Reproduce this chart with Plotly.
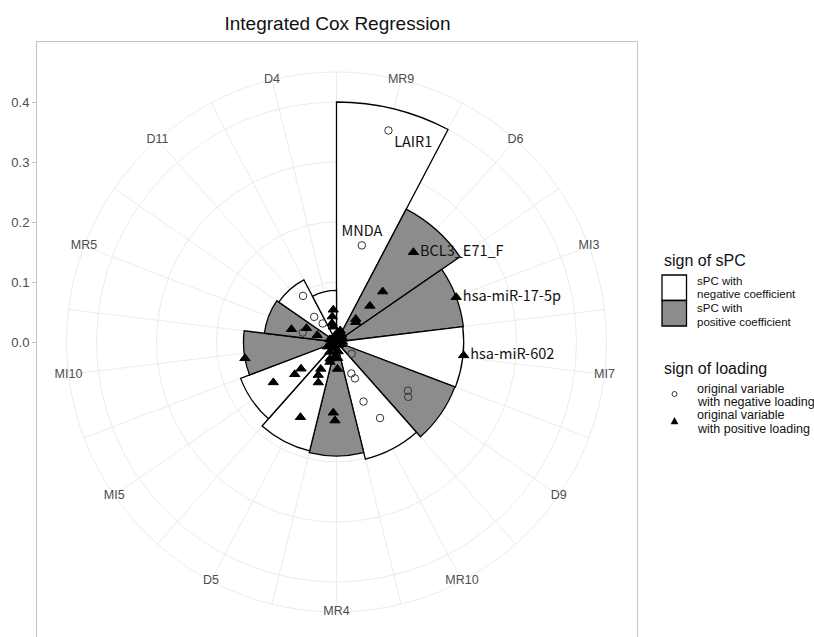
import plotly.graph_objects as go

# ---------------------------------------------------------------- data
title_text = "Integrated Cox Regression"

# sparse principal components, clockwise from 12 o'clock
spc_names = ["MR9", "D6", "MI3", "MI7", "D9", "MR10", "MR4",
             "D5", "MI5", "MI10", "MR5", "D11", "D4"]
spc_abs_coef = [0.400, 0.250, 0.213, 0.212, 0.211, 0.201, 0.190,
                0.187, 0.171, 0.155, 0.121, 0.117, 0.086]
spc_sign = ["neg", "pos", "pos", "neg", "pos", "neg", "pos",
            "neg", "neg", "pos", "pos", "neg", "neg"]

# original variables: angle (deg, clockwise from top), |loading|, sign, label
var_angle = [13.8, 14.7, 10, 18,
             40.6, 42.5, 42.8, 40.0, 44.0, 35, 48,
             69.5, 62, 75,
             96.0, 90,
             124.3, 127.4, 127.8, 118,
             154.8, 153.1, 155.6, 150.2, 150,
             182.6, 181.1, 177.9, 176, 186, 170,
             205.6, 204.2, 208.9, 210.3, 201, 198, 214, 205,
             237.4, 232.3, 233.0, 243, 230,
             259.9, 265, 255,
             285.8, 294.7, 289.2, 285.7, 292,
             324.0, 318.4, 323.3, 318,
             354.3, 350.6, 346.5, 348.2, 352, 340]
var_load = [0.363, 0.1665, 0.012, 0.020,
            0.197, 0.114, 0.082, 0.050, 0.046, 0.015, 0.008,
            0.213, 0.012, 0.006,
            0.213, 0.010,
            0.144, 0.1505, 0.032, 0.008,
            0.058, 0.068, 0.109, 0.146, 0.006,
            0.118, 0.131, 0.045, 0.027, 0.024, 0.016,
            0.139, 0.074, 0.063, 0.052, 0.030, 0.035, 0.020, 0.012,
            0.125, 0.088, 0.074, 0.017, 0.010,
            0.155, 0.010, 0.006,
            0.078, 0.055, 0.034, 0.0585, 0.012,
            0.095, 0.056, 0.0385, 0.008,
            0.054, 0.043, 0.032, 0.026, 0.012, 0.006]
var_sign = ["neg", "neg", "pos", "pos",
            "pos", "pos", "pos", "pos", "pos", "pos", "pos",
            "pos", "pos", "pos",
            "pos", "pos",
            "neg", "neg", "neg", "pos",
            "neg", "neg", "neg", "neg", "pos",
            "pos", "pos", "pos", "pos", "pos", "pos",
            "pos", "pos", "pos", "pos", "pos", "pos", "pos", "pos",
            "pos", "pos", "pos", "pos", "pos",
            "pos", "pos", "pos",
            "pos", "pos", "pos", "neg", "pos",
            "neg", "neg", "neg", "pos",
            "pos", "pos", "pos", "pos", "pos", "pos"]
var_label = {0: "LAIR1", 1: "MNDA", 4: "BCL3_E71_F",
             11: "hsa-miR-17-5p", 14: "hsa-miR-602"}
label_pos = {0: "bottom right", 1: "top center", 4: "middle right",
             11: "middle right", 14: "middle right"}

r_breaks = [0.0, 0.1, 0.2, 0.3, 0.4]
r_outer = 0.45

# ---------------------------------------------------------------- style
W, H = 814, 637
CX, CY = 336.5, 342.0          # pixel position of the pole
PX_PER_UNIT = 600.0            # radial scale
R_PX = r_outer * PX_PER_UNIT   # outer ring radius in px
PANEL_L, PANEL_R, PANEL_T = 37, 637, 42

FONT = "Liberation Sans"
LABEL_FONT = "Noto Sans CJK KR"
GRID = "#EBEBEB"
BORDER = "#C4C4C4"
AXIS_TXT = "#4D4D4D"
FILL = {"neg": "#FFFFFF", "pos": "#8C8C8C"}


def px(x):
    return x / W


def py(y):
    return 1 - y / H


n = len(spc_names)
step = 360.0 / n
spc_theta = [(i + 0.5) * step for i in range(n)]

fig = go.Figure()

# bars
fig.add_trace(go.Barpolar(
    r=spc_abs_coef, theta=spc_theta, width=[step] * n,
    marker=dict(color=[FILL[s] for s in spc_sign],
                line=dict(color="black", width=1.3)),
    showlegend=False, hoverinfo="skip",
))

# loadings: open circles (negative) then filled triangles (positive)
for sign, symbol, size, col in [("neg", "circle-open", 7.5, "#333333"),
                                ("pos", "triangle-up", 9, "black")]:
    idx = [i for i, s in enumerate(var_sign) if s == sign]
    fig.add_trace(go.Scatterpolar(
        r=[var_load[i] for i in idx],
        theta=[var_angle[i] for i in idx],
        mode="markers+text",
        text=[var_label.get(i, "") for i in idx],
        textposition=[label_pos.get(i, "middle center") for i in idx],
        textfont=dict(family=LABEL_FONT, size=14.5, color="#111111"),
        marker=dict(symbol=symbol, size=size, color=col,
                    line=dict(width=1, color=col)),
        showlegend=False, hoverinfo="skip", cliponaxis=False,
    ))

# category labels sitting on the outer ring
fig.add_trace(go.Scatterpolar(
    r=[r_outer] * n, theta=spc_theta, mode="text", text=spc_names,
    textfont=dict(family=FONT, size=12.5, color=AXIS_TXT),
    textposition="middle center", showlegend=False, hoverinfo="skip",
    cliponaxis=False,
))

# empty cartesian trace so the framed panel + radius scale are drawn
fig.add_trace(go.Scatter(x=[], y=[], showlegend=False, hoverinfo="skip"))

fig.update_layout(
    width=W, height=H,
    margin=dict(l=0, r=0, t=0, b=0),
    paper_bgcolor="white", plot_bgcolor="rgba(0,0,0,0)",
    font=dict(family=FONT, color="black"),
    title=dict(text=title_text, x=337.5 / W, y=py(23), xanchor="center",
               yanchor="middle", font=dict(family=FONT, size=19, color="#111111")),
    polar=dict(
        domain=dict(x=[px(CX - R_PX), px(CX + R_PX)],
                    y=[py(CY + R_PX), py(CY - R_PX)]),
        bgcolor="rgba(0,0,0,0)",
        radialaxis=dict(range=[0, r_outer], tickmode="array",
                        tickvals=r_breaks[1:], showticklabels=False, ticks="",
                        showline=False, gridcolor=GRID, gridwidth=1,
                        layer="below traces"),
        angularaxis=dict(rotation=90, direction="clockwise", tickmode="array",
                         tickvals=[k * step / 2 for k in range(2 * n)],
                         showticklabels=False, ticks="", gridcolor=GRID,
                         gridwidth=1, showline=True, linecolor=GRID,
                         linewidth=1, layer="below traces"),
    ),
    xaxis=dict(domain=[px(PANEL_L), px(PANEL_R)], range=[0, 1], side="top",
               showline=True, linecolor=BORDER, linewidth=1,
               showticklabels=False, ticks="", showgrid=False,
               zeroline=False, fixedrange=True),
    yaxis=dict(domain=[0, py(PANEL_T)],
               range=[(CY - H) / PX_PER_UNIT, (CY - PANEL_T) / PX_PER_UNIT],
               tickmode="array", tickvals=r_breaks, tickformat=".1f",
               ticks="outside", ticklen=4, tickcolor=BORDER,
               tickfont=dict(family=FONT, size=13, color=AXIS_TXT),
               showline=True, mirror=True, linecolor=BORDER, linewidth=1,
               showgrid=False, zeroline=False, fixedrange=True),
)

# ---------------------------------------------------------------- legend
LX = 662
shapes = []
ann = []


def text(x, y, s, size=12.5):
    ann.append(dict(x=px(x), y=py(y), xref="paper", yref="paper", text=s,
                    showarrow=False, xanchor="left", yanchor="middle",
                    font=dict(family=FONT, size=size, color="#111111")))


text(LX, 260, "sign of sPC", 16)
for k, (sign, l1, l2) in enumerate([("neg", "sPC with", "negative coefficient"),
                                    ("pos", "sPC with", "positive coefficient")]):
    y0 = 275 + 25.5 * k
    shapes.append(dict(type="rect", xref="paper", yref="paper",
                       x0=px(LX), x1=px(LX + 24.5), y0=py(y0), y1=py(y0 + 25.5),
                       fillcolor=FILL[sign], line=dict(color="black", width=1.3)))
for y, s in [(280.5, "sPC with"), (294.3, "negative coefficient"),
             (308.1, "sPC with"), (321.9, "positive coefficient")]:
    text(695, y, s, 11.5)

text(LX, 368, "sign of loading", 16)
# circle glyph
shapes.append(dict(type="circle", xref="paper", yref="paper",
                   x0=px(672), x1=px(677), y0=py(391.5), y1=py(396.5),
                   line=dict(color="#333333", width=1)))
# triangle glyph
tx, ty = 674.5, 421
shapes.append(dict(type="path", xref="paper", yref="paper",
                   path=f"M {px(tx-3.5)} {py(ty+3)} L {px(tx+3.5)} {py(ty+3)} L {px(tx)} {py(ty-3.5)} Z",
                   fillcolor="black", line=dict(color="black", width=0.5)))
text(695, 388.5, "original variable")
text(695, 402, "with negative loading")
text(695, 415, "original variable")
text(695, 428.5, "with positive loading")

fig.update_layout(shapes=shapes, annotations=ann)

fig.write_html("out.html")
